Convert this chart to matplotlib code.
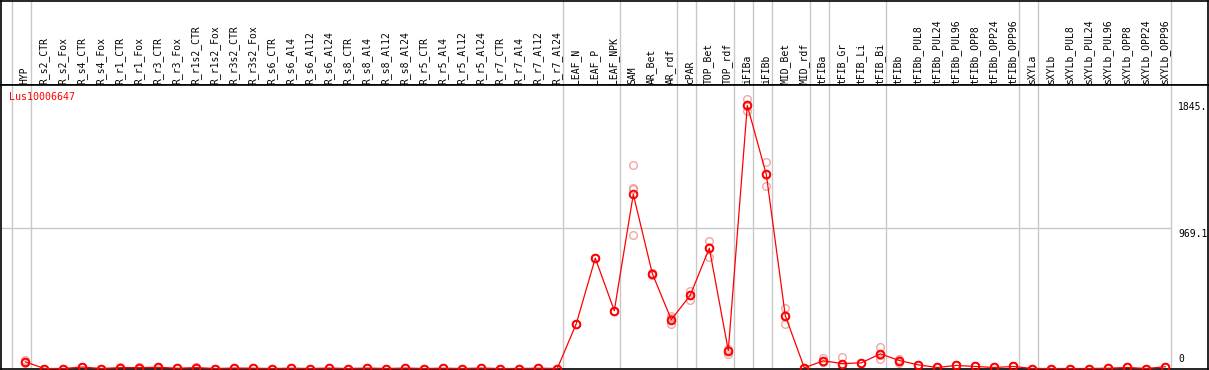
import numpy as np
import matplotlib
matplotlib.use("Agg")
import matplotlib.pyplot as plt

# ================================================================
# DATA
# ================================================================

gene = "Lus10006647"

samples = [
    "HYP",
    "R_s2_CTR", "R_s2_Fox", "R_s4_CTR", "R_s4_Fox",
    "R_r1_CTR", "R_r1_Fox", "R_r3_CTR", "R_r3_Fox",
    "R_r1s2_CTR", "R_r1s2_Fox", "R_r3s2_CTR", "R_r3s2_Fox",
    "R_s6_CTR", "R_s6_Al4", "R_s6_Al12", "R_s6_Al24",
    "R_s8_CTR", "R_s8_Al4", "R_s8_Al12", "R_s8_Al24",
    "R_r5_CTR", "R_r5_Al4", "R_r5_Al12", "R_r5_Al24",
    "R_r7_CTR", "R_r7_Al4", "R_r7_Al12", "R_r7_Al24",
    "LEAF_N", "LEAF_P", "LEAF_NPK",
    "SAM", "AR_Bet", "AR_rdf", "cPAR", "TOP_Bet", "TOP_rdf",
    "iFIBa", "iFIBb", "MID_Bet", "MID_rdf",
    "tFIBa", "tFIB_Gr", "tFIB_Li", "tFIB_Bi", "tFIBb",
    "tFIBb_PUL8", "tFIBb_PUL24", "tFIBb_PUL96",
    "tFIBb_OPP8", "tFIBb_OPP24", "tFIBb_OPP96",
    "sXYLa", "sXYLb",
    "sXYLb_PUL8", "sXYLb_PUL24", "sXYLb_PUL96",
    "sXYLb_OPP8", "sXYLb_OPP24", "sXYLb_OPP96",
]

# mean expression per sample
means = [
    46,
    0, 0, 10, 0, 6, 6, 8, 2, 6, 0, 3, 2,
    0, 2, 0, 3, 0, 3, 0, 3, 0, 2, 0, 3, 0, 0, 2, 0,
    309, 761, 399,
    1201, 655, 337, 506, 830, 124,
    1814, 1338, 364, 5,
    53, 34, 39, 101, 55,
    25, 7, 21, 14, 7, 14,
    0, 0,
    0, 0, 2, 7, 0, 12,
]

# individual replicates (drawn faint)
rep_a = [
    58,
    0, 0, 12, 0, 8, 8, 10, 2, 8, 0, 3, 2,
    0, 2, 0, 3, 0, 3, 0, 3, 0, 2, 0, 3, 0, 0, 2, 0,
    309, 761, 399,
    1400, 660, 359, 534, 880, 135,
    1862, 1423, 417, 5,
    71, 76, 39, 151, 39,
    25, 7, 21, 14, 7, 14,
    0, 0,
    0, 0, 2, 7, 0, 12,
]
rep_b = [
    38,
    0, 0, 8, 0, 4, 4, 6, 2, 4, 0, 3, 2,
    0, 2, 0, 3, 0, 3, 0, 3, 0, 2, 0, 3, 0, 0, 2, 0,
    309, 761, 399,
    1246, 645, 305, 474, 772, 103,
    1773, 1256, 307, 5,
    43, 7, 39, 67, 67,
    25, 7, 21, 14, 7, 14,
    0, 0,
    0, 0, 2, 7, 0, 12,
]
rep_c = [
    45,
    0, 0, 10, 0, 6, 6, 8, 2, 6, 0, 3, 2,
    0, 2, 0, 3, 0, 3, 0, 3, 0, 2, 0, 3, 0, 0, 2, 0,
    309, 761, 399,
    1235, 655, 345, 510, 838, 130,
    1810, 1335, 365, 5,
    50, 30, 39, 95, 55,
    25, 7, 21, 14, 7, 14,
    0, 0,
    0, 0, 2, 7, 0, 12,
]
rep_d = [
    43,
    0, 0, 10, 0, 6, 6, 8, 2, 6, 0, 3, 2,
    0, 2, 0, 3, 0, 3, 0, 3, 0, 2, 0, 3, 0, 0, 2, 0,
    309, 761, 399,
    919, 660, 340, 506, 830, 128,
    1811, 1338, 367, 5,
    48, 23, 39, 91, 59,
    25, 7, 21, 14, 7, 14,
    0, 0,
    0, 0, 2, 7, 0, 12,
]

# sample groups end after these indices (-1 = frame before the first)
group_ends = [-1, 0, 28, 31, 34, 35, 37, 38, 39, 41, 42, 45, 52, 53, 60]

y_ticks = [1845.0, 969.1, 0]
y_tick_labels = ["1845.", "969.1", "0"]


# ================================================================
# LAYOUT
# ================================================================

W, H = 1209, 370
HEADER_PX = 85        # header with sample names
BOTTOM_PX = 369
X0_PX, STEP_PX = 25.3, 19.0
PX_PER_UNIT = 0.1450
ZERO_PX = 368.5

plt.rcParams["font.family"] = ["DejaVu Sans Mono"]

GRID = "#c8c8c8"
RED = "#ff0000"
PINK = "#f09090"

fig = plt.figure(figsize=(W / 100, H / 100), dpi=100)

xl = ((1 - X0_PX) / STEP_PX, (1208 - X0_PX) / STEP_PX)
sep_x = [g + 0.28 for g in group_ends]

ax_head = fig.add_axes([1 / W, (H - HEADER_PX) / H, 1207 / W, (HEADER_PX - 0.5) / H])
ax = fig.add_axes([1 / W, (H - BOTTOM_PX) / H, 1207 / W, (BOTTOM_PX - HEADER_PX) / H])

# ---- header -------------------------------------------------------
ax_head.set_xlim(*xl)
ax_head.set_ylim(HEADER_PX, 0)
for x in sep_x:
    ax_head.axvline(x, color=GRID, lw=1.0, zorder=0)
for i, name in enumerate(samples):
    ax_head.text(i - 0.03, 83.5, name, rotation=90, ha="center", va="bottom",
                 fontsize=7, color="black")
ax_head.set_xticks([])
ax_head.set_yticks([])
for s in ax_head.spines.values():
    s.set_color("black")
    s.set_linewidth(1.2)

# ---- plot ---------------------------------------------------------
x = np.arange(len(samples))
ax.set_xlim(*xl)
ax.set_ylim((ZERO_PX - BOTTOM_PX) / PX_PER_UNIT,
            (ZERO_PX - HEADER_PX) / PX_PER_UNIT)

for sx in sep_x:
    ax.axvline(sx, color=GRID, lw=1.0, zorder=0)
ax.hlines(969.1, xl[0], sep_x[-1], color=GRID, lw=1.0, zorder=0)

for rep in (rep_a, rep_b, rep_c, rep_d):
    ax.plot(x, rep, linestyle="none", marker="o", markersize=5.5,
            markerfacecolor="none", markeredgecolor=PINK,
            markeredgewidth=1.0, alpha=0.8, zorder=2)

ax.plot(x, means, color=RED, lw=0.9, marker="o", markersize=5.5,
        markerfacecolor="none", markeredgecolor=RED, markeredgewidth=1.4,
        zorder=3)

tick_x = (1178 - X0_PX) / STEP_PX
for val, lab in zip(y_ticks, y_tick_labels):
    va = "bottom" if val == 0 else "top"
    off = 4 if val == 0 else -1
    ax.annotate(lab, (tick_x, val), xytext=(0, off), textcoords="offset pixels",
                ha="left", va=va, fontsize=7, color="black",
                annotation_clip=False)

ax.set_xticks([])
ax.set_yticks([])
for s in ax.spines.values():
    s.set_color("black")
    s.set_linewidth(1.2)

fig.text(9 / W, 1 - 97.5 / H, gene, color=RED, fontsize=7.2,
         ha="left", va="center")

plt.savefig("out.png", dpi=100)
